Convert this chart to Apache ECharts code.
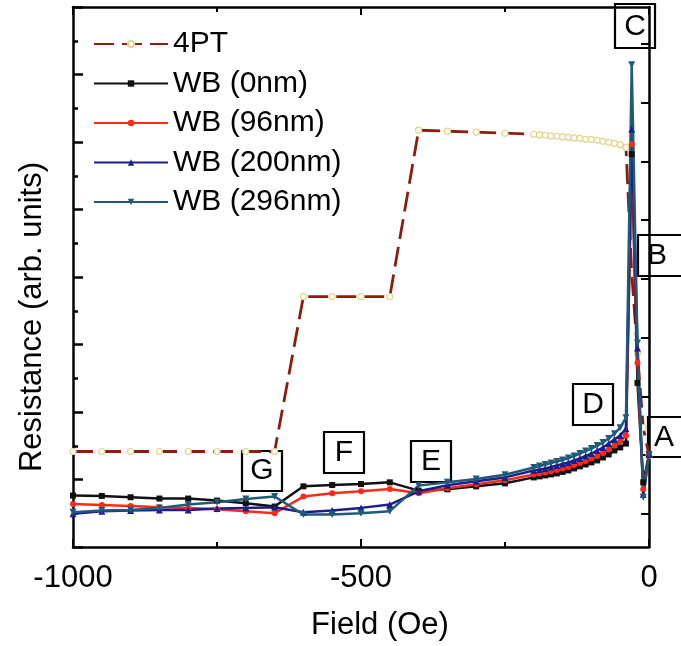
<!DOCTYPE html>
<html>
<head>
<meta charset="utf-8">
<script src="https://cdn.jsdelivr.net/npm/echarts@6/dist/echarts.min.js"></script>
<style>
html,body{margin:0;padding:0;background:#fff;}
#chart{width:681px;height:646px;}
</style>
</head>
<body>
<div id="chart"></div>
<script>
// Field values (Oe)
const field = [-1000,-950,-900,-850,-800,-750,-700,-650,-600,-550,-500,-450,-400,-350,-300,-250,-200,
  -190,-180,-170,-160,-150,-140,-130,-120,-110,-100,-90,-80,-70,-60,-50,-40,-30,-20,-10,0];

// 4PT resistance (left axis, arb. units)
const r4PT = [2.83,2.83,2.83,2.83,2.83,2.83,2.83,2.83,7.42,7.42,7.42,7.42,12.35,12.32,12.29,12.26,12.23,
  12.21,12.20,12.18,12.17,12.15,12.14,12.12,12.11,12.08,12.07,12.05,12.02,11.99,11.96,11.92,11.84,8.10,5.75,3.54,2.71];

// WB resistances (right axis, arb. units)
const wb0 = [0.312,0.305,0.283,0.261,0.261,0.227,0.181,0.125,0.469,0.491,0.508,0.537,0.396,0.418,0.469,0.520,0.621,
  0.638,0.655,0.672,0.689,0.715,0.740,0.774,0.808,0.842,0.876,0.910,0.961,1.012,1.080,1.131,1.197,6.124,2.230,0.537,1.011];
const wb96 = [0.169,0.152,0.135,0.113,0.102,0.080,0.046,0.012,0.295,0.350,0.384,0.423,0.350,0.435,0.503,0.571,0.672,
  0.689,0.706,0.723,0.748,0.774,0.799,0.833,0.867,0.901,0.943,0.986,1.036,1.095,1.163,1.231,1.333,6.294,2.569,0.418,1.011];
const wb200 = [0.000,0.046,0.058,0.068,0.068,0.091,0.102,0.113,0.029,0.058,0.102,0.159,0.384,0.486,0.554,0.621,0.740,
  0.757,0.774,0.799,0.825,0.850,0.875,0.909,0.943,0.985,1.028,1.079,1.130,1.198,1.265,1.333,1.451,6.548,2.823,0.334,1.011];
const wb296 = [0.029,0.058,0.068,0.102,0.159,0.198,0.254,0.295,-0.010,-0.010,0.012,0.046,0.481,0.537,0.593,0.667,0.791,
  0.816,0.842,0.867,0.892,0.918,0.952,0.985,1.028,1.070,1.112,1.163,1.214,1.282,1.366,1.468,1.637,7.648,2.908,0.283,1.011];

const seriesNames = ['4PT','WB (0nm)','WB (96nm)','WB (200nm)','WB (296nm)'];
const xTickLabels = [-1000,-500,0];
const rightTicks = [0,1,2,3,4,5,6,7,8];
const boxLabels = ['A','B','C','D','E','F','G'];

const zip = arr => field.map((x,i)=>[x,arr[i]]);

const chart = echarts.init(document.getElementById('chart'), null, {renderer:'canvas'});
const FONT = 'Liberation Sans, Arial, sans-serif';
const AX = 2.5;

function box(label, x, y, w, h, tx, ty){
  return {
    type:'group', z:100,
    children:[
      {type:'rect', shape:{x:x,y:y,width:w,height:h}, style:{fill:'#fff', stroke:'#000', lineWidth:2.2}},
      {type:'text', x:tx, y:ty, style:{text:label, font:'30px ' + FONT, fill:'#000', align:'center', verticalAlign:'middle'}}
    ]
  };
}

const wbSeries = (name, data, color, symbol, size) => ({
  name:name, type:'line', yAxisIndex:1, data:zip(data),
  symbol:symbol, symbolSize:size, showSymbol:true,
  lineStyle:{color:color, width:2.5},
  itemStyle:{color:color, borderColor:color, borderWidth:0},
  z:3, animation:false
});

const option = {
  animation:false,
  backgroundColor:'#fff',
  textStyle:{fontFamily:FONT},
  grid:{left:73, right:32, top:7, bottom:96, containLabel:false},
  legend:{
    orient:'vertical', left:93, top:29, padding:0, itemWidth:74, itemHeight:8, itemGap:9.5,
    textStyle:{fontSize:30, color:'#000', fontFamily:FONT, lineHeight:30},
    data:seriesNames
  },
  xAxis:[{
    type:'value', min:-1000, max:0, interval:500, position:'bottom',
    axisLine:{show:true, onZero:false, lineStyle:{color:'#000', width:AX}},
    axisTick:{show:true, inside:true, length:8, lineStyle:{color:'#000', width:2}, customValues:xTickLabels},
    minorTick:{show:true, splitNumber:2, length:5, lineStyle:{color:'#000', width:2}},
    axisLabel:{fontSize:31, color:'#000', margin:16, fontFamily:FONT, customValues:xTickLabels,
      formatter: v => String(v)},
    splitLine:{show:false},
    name:'Field (Oe)', nameLocation:'middle', nameGap:63,
    nameTextStyle:{fontSize:31, color:'#000', fontFamily:FONT, padding:[0,0,0,38]}
  },{
    type:'value', min:-1000, max:0, interval:500, position:'top',
    axisLine:{show:true, onZero:false, lineStyle:{color:'#000', width:AX}},
    axisTick:{show:true, inside:true, length:8, lineStyle:{color:'#000', width:2}, customValues:xTickLabels},
    minorTick:{show:true, splitNumber:2, length:5, lineStyle:{color:'#000', width:2}},
    axisLabel:{show:false}, splitLine:{show:false}
  }],
  yAxis:[{
    type:'value', min:0, max:16, interval:2, position:'left',
    axisLine:{show:true, onZero:false, lineStyle:{color:'#000', width:AX}},
    axisTick:{show:true, inside:true, length:10, lineStyle:{color:'#000', width:2.5}},
    minorTick:{show:true, splitNumber:2, length:5, lineStyle:{color:'#000', width:2.5}},
    axisLabel:{show:false}, splitLine:{show:false},
    name:'Resistance (arb. units)', nameLocation:'middle', nameGap:25, nameRotate:90,
    nameTextStyle:{fontSize:31, color:'#000', fontFamily:FONT, padding:[0,80,0,0]}
  },{
    type:'value', min:-0.564, max:8.63, position:'right',
    axisLine:{show:true, onZero:false, lineStyle:{color:'#000', width:AX}},
    axisTick:{show:true, inside:true, length:8, lineStyle:{color:'#000', width:2}, customValues:rightTicks},
    axisLabel:{show:false}, splitLine:{show:false}
  }],
  series:[
    {
      name:'4PT', type:'line', yAxisIndex:0, data:zip(r4PT),
      symbol:'circle', symbolSize:6, showSymbol:true,
      lineStyle:{color:'#8a1f10', width:2.8, type:[20,8]},
      itemStyle:{color:'#fff', borderColor:'#e6d48a', borderWidth:1.2},
      z:2, animation:false
    },
    wbSeries('WB (0nm)', wb0, '#111111', 'rect', 6),
    wbSeries('WB (96nm)', wb96, '#ff2a1a', 'circle', 6),
    wbSeries('WB (200nm)', wb200, '#1c1f8a', 'triangle', 7),
    wbSeries('WB (296nm)', wb296, '#1f5b78', 'path://M0,0 L10,0 L5,9 Z', 7)
  ],
  graphic:[
    box(boxLabels[0], 648, 417, 45, 40, 664, 438),
    box(boxLabels[1], 638, 235, 52, 41, 657, 256),
    box(boxLabels[2], 615, 4, 40, 44, 635, 27),
    box(boxLabels[3], 573, 384, 40, 41, 593, 405),
    box(boxLabels[4], 411, 441, 40, 41, 431, 462),
    box(boxLabels[5], 324, 432, 40, 41, 344, 453),
    box(boxLabels[6], 242, 451, 40, 40, 262, 471)
  ]
};
chart.setOption(option);
</script>
</body>
</html>
